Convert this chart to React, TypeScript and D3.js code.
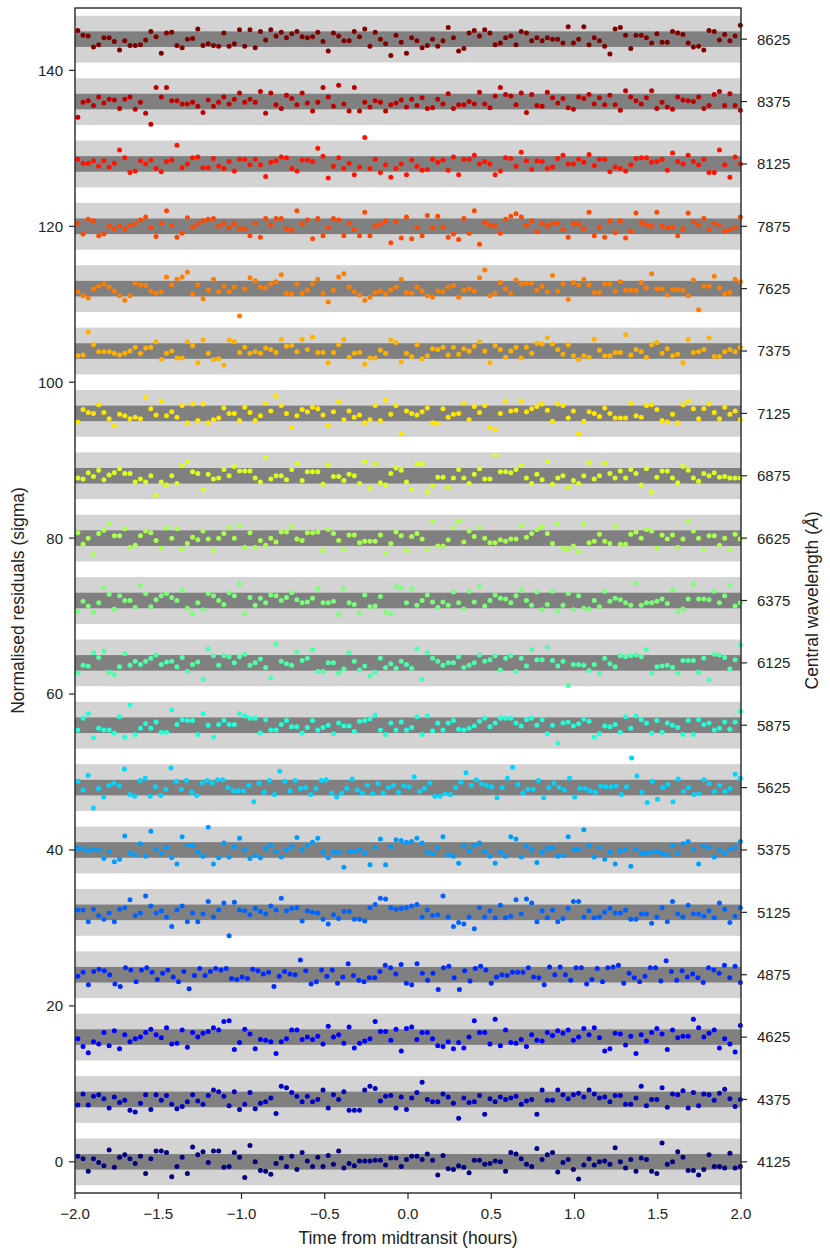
import * as d3 from "d3";
import { useEffect } from "react";

// central wavelength of each spectroscopic channel (Angstrom), bottom to top
const wavelengths = [
  4125, 4375, 4625, 4875, 5125, 5375, 5625, 5875, 6125, 6375,
  6625, 6875, 7125, 7375, 7625, 7875, 8125, 8375, 8625,
];
const rowSpacing = 8; // vertical offset between channels, in sigma
const xTicks = [-2, -1.5, -1, -0.5, 0, 0.5, 1, 1.5, 2];
const yTicks = [0, 20, 40, 60, 80, 100, 120, 140];
const tStart = -1.983;
const tEnd = 1.996;

// normalised residuals (sigma) per channel, in time order
const res4125 = [0.7, 0.4, -1.2, 0.4, -0.1, -0.5, 1.5, -0.7, 0.6, 0.9, 0.4, -0.2, 0.7, -1.5, 0.4, 1.4, 1.4, 1.2, -1.9, -0.6, 0.6, -1.5, 1.9, 0.9, 1.3, -0.1, 1.4, 1.4, -0.7, -0.6, 1.2, 0.6, -2.0, 2.1, 0, -1.1, -1.2, -1.6, -0.2, 0.5, -0.6, 0.7, -1.0, 1.2, 0.1, -0.6, 0.6, -0.6, 0.8, -0.3, 1.4, -0.8, -0.2, -0.5, 0.1, 0.1, 0.1, 0.2, 0.2, -0.4, 0.5, 0.5, -0.6, 0.3, 0.7, 0.7, 0.3, 1.0, 0.2, -1.7, 0.8, -0.9, -1.0, -0.5, -0.7, -1.4, 0.2, 0.2, -0.3, -0.2, 0.1, 0, -1.2, 1.2, 1.0, 0.4, -0.3, -0.6, 1.7, 0.3, 0.9, 1.2, -1.3, -0.1, 0.3, -1.0, -2.2, -0.4, 0.4, -0.4, 0, 0.1, -0.3, 1.8, 0, -0.8, 0.3, -1.2, 0.5, 0.3, -1.2, -1.5, 2.4, -0.3, 0, 1.3, 0.6, -1.1, -1.1, -1.7, -1.0, 0.9, -0.6, -0.6, -0.8, 1.1, -0.8, -0.6];
const res4375 = [-0.7, 0.7, -0.7, 0.4, 0.6, 0.1, -1.1, 0.3, -0.4, -0.1, -1.4, -1.6, -0.5, 0.6, -1.3, 0.6, -0.1, 0.5, -0.6, -1.2, -0.9, -0.3, 0.6, -0.2, -0.6, 0.5, 1.2, 1.0, 0.4, -0.8, 1.0, -1.3, -0.6, 0.9, -1.2, -0.5, -0.3, 0.2, -1.8, 1.7, 1.5, 0.9, 0.4, -0.3, 0.4, -0.3, 0, 1.2, -1.1, 0.6, 0, 1.0, -1.4, -1.4, -1.4, 1.2, 1.7, 1.4, -0.2, 0.4, 0.5, -1.1, 0.3, -1.3, 0.2, 0.9, 2.2, 0, -0.3, -0.3, 0.7, 0.3, -0.5, -2.4, 0.2, -0.4, -0.3, 0.5, -1.9, 0.1, -0.3, 0.3, 0, 0.2, 0.4, -0.6, -0.2, 0, -1.9, 1.2, -0.1, -0.1, 1.2, 0.6, 0.1, 0.6, 0.8, 0.3, 1.2, 0.7, 0.2, 0.3, -0.3, 0.5, 0.5, -0.6, -0.6, 0.2, 1.7, -0.8, 0, 0, 1.5, -1.0, 0.7, 0.6, 1.1, -1.1, 0.9, -0.8, 0.7, 0.6, -0.1, 0.8, 1.3, 0.1, -0.9, 0];
const res4625 = [-0.2, -1.2, -2.0, -0.6, -0.9, 0.6, -1.1, 0.8, -1.5, 0.3, -0.6, -0.2, 0, 0.6, 1.0, 0.3, -0.1, 1.2, -0.9, -0.8, 0.9, -1.3, 0.6, 0, 0.5, 0.7, 1.2, 0.9, 2.0, 2.1, -1.6, -0.7, 1.0, 0.4, -1.5, -0.3, -0.4, -0.6, -2.1, -0.6, -0.2, 0.9, 0.9, -0.3, 0, -0.3, 0.1, -0.9, 1.4, 0, 0.3, -0.8, 1.3, -1.4, -0.8, -0.5, -0.2, 2.0, 0.7, 0.7, -0.4, 1.0, -1.8, 1.1, 1.3, -0.3, 0.6, 0.6, -0.2, -1.1, -1.2, -0.6, -1.5, -0.7, -1.4, 0, 2.1, 0.6, 0.6, -0.9, 2.3, -1.1, 0.9, -0.7, -0.8, -0.3, -1.2, 0.3, -0.4, -0.5, 0.6, 0.2, 0.8, 0.5, 0.9, -0.4, 0, 1.1, 0.3, 1.2, -0.1, -1.8, -1.5, 0.5, 0.4, -1.0, 0.1, -2.1, 0.3, -0.5, 0.6, 1.1, 0.4, -1.6, 0.9, -0.1, 0.1, 0.1, 2.3, 1.2, 0, 0.5, 0.9, -1.4, -0.2, -0.9, -1.9, 1.5];
const res4875 = [-0.2, 0.3, -1.3, 0.4, 0.7, 0.5, 0, -1.2, -1.5, 0.9, 0.6, -0.9, 0.6, 0.9, 0.3, -0.6, 0.2, 0.6, -0.3, -0.9, 0.4, -1.8, -0.1, 0.8, -0.1, 0.4, 0.8, 0.6, 0.8, -0.5, -0.6, -0.3, -0.5, 0.7, 0.5, 0.1, 0.3, -1.5, -0.2, 0.4, 0.1, 0, 1.9, 0.5, -1.2, -0.9, 0.6, -0.2, 0.6, -1.1, -0.3, 1.4, -0.1, -0.7, -0.9, -0.4, -0.4, 0.4, 1.2, 0.9, 0.1, 1.3, -1.1, -1.3, 1.4, 0.2, -0.7, 0.2, -1.9, 0.9, 1.1, -0.4, -1.9, 0.5, -0.8, 0.8, 1.1, 0.6, -1.1, -0.3, 0, -0.1, 0.3, 0.3, 0.3, 0.9, -0.3, -0.4, -1.3, 1.0, 0, 1.0, 0, -0.7, 0.9, 0.9, -1.2, -0.6, 0.8, -0.9, 0.9, 1.0, 1.2, -1.1, 0.2, -0.4, -0.9, -0.2, 0.9, 0.9, -0.8, 1.8, 0.4, -0.7, 0.5, -0.3, 0.1, -0.4, -1.0, 0.9, 0.6, 0.2, 1.2, -0.4, 1.1, -1.0];
const res5125 = [0.3, 0.3, -1.2, 0.4, -0.4, -0.9, -0.1, -1.2, 0.4, 0.6, 1.6, -0.4, -0.1, 2.1, 0.8, -0.1, 0.2, -0.6, -1.8, 0.3, 0.8, -1.2, -0.1, -1.2, -0.2, 1.4, -0.6, 0.3, 1.2, -3.0, 1.3, 0.3, 0.2, -0.3, 0.5, 0.1, -0.2, 0.8, 0.3, 1.8, 0.2, 0.5, 0.6, -1.1, 0.2, 0, -0.1, -0.9, -1.5, -0.3, -0.8, 0.1, 0.1, -0.9, -0.9, -1.1, 0.6, 1.0, 1.8, 1.7, 0.6, 0.4, 0.5, 0.6, 0.8, 1.0, -0.6, 0.3, -0.4, -0.3, 2.1, -0.6, -1.8, -1.3, -1.5, -0.6, -2.1, 0.6, -0.6, 0.2, -0.7, 0.9, -0.7, -0.5, 1.6, -0.2, 1.7, 1.2, -1.2, 0.2, -0.7, 0.3, -1.2, -0.8, 0.5, 1.4, 1.4, -0.6, 0.2, -0.7, -0.6, 0, 0.5, -0.1, -0.1, 0.3, -0.9, -0.9, -0.2, -0.2, -1.4, -0.6, 0.6, -1.2, 1.4, -0.2, -0.6, 0.9, -0.2, -0.2, -0.5, 0.2, -0.7, 1.2, 0.4, -1.3, -0.5, 0.6];
const res5375 = [0.2, 0.2, -0.1, 0.1, 0, -1.1, -0.2, -1.5, -1.2, 1.8, -0.4, -0.6, 0.8, -0.8, 2.4, 0.1, -0.5, 0.3, -1.0, -1.8, 1.7, 0.6, 0.6, -0.3, -0.8, 2.9, -1.8, -1.0, 0.9, -0.9, 0.4, 1.5, 0, -1.1, -0.7, -1.0, 0.2, 0.6, -0.2, -0.9, 0, 0.4, 1.6, 0, 0.6, 1.0, 1.5, -0.3, -1.0, -0.3, -0.3, -2.2, -0.2, -0.2, 0, -0.4, -1.9, 0.3, 1.4, -1.9, 0.4, 1.3, 1.2, 1.0, 1.1, 1.5, 0.9, -0.3, -0.5, 0.3, 1.7, -0.6, -0.8, -1.7, 0.6, -0.1, 0.6, 0.9, -0.2, -0.8, -1.7, -0.3, -0.8, 1.7, 1.4, -0.9, 0.5, 0, -1.6, -0.3, 0.2, 0.3, -0.8, -0.7, 1.7, 0.1, 0.1, 2.6, 0.5, -0.9, 0.3, -1.2, -0.3, -1.8, -0.1, 0.1, -2.1, 0.1, -0.4, -0.4, -0.3, -0.2, -0.5, -0.6, 0.6, -0.4, 0.8, 1.1, 0.1, -1.8, 0.5, 0.3, -0.9, 0, -0.4, 0.1, 0.3, 1.1];
const res5625 = [0.8, -0.3, 1.6, -2.6, -0.1, -1.2, 0.3, 0.6, 0.2, 2.4, -0.9, -1.1, 0.9, 1.2, -1.1, 0.1, -1.0, -0.2, 2.5, 0.8, -0.2, 0.9, -0.6, -1.0, 0.6, 0.9, 0.6, 1.0, 1.0, 0, -0.4, -0.4, -0.4, 0.3, -1.8, 0.6, -0.6, 0.9, -0.9, 2.1, 0.8, -0.4, 0.9, -0.1, 0, -0.9, -0.1, 0.9, 1.0, -0.7, -1.2, -0.7, -0.1, 1.1, -0.3, -0.7, 0.3, -0.8, 0.5, -0.7, 0, 0.3, -0.6, 0.2, 0.1, 1.4, -0.5, -0.1, 0.6, -1.1, -1.1, -0.8, -0.9, 0, 0.7, 1.9, 0.3, 1.0, 0.5, 0.3, 0.1, -1.3, 0, 1.2, 2.6, 0.4, -0.7, -0.2, -0.2, 0.9, -1.3, 0, 0.6, 0, -0.3, 1.2, -1.2, -0.1, -0.1, -0.4, -0.6, 0.2, 0.1, 0.1, 0.2, -0.9, 0.1, 3.8, 1.5, -0.6, -1.9, 0.8, -1.5, 0, 0.4, -1.8, 1.1, -0.5, 0, -0.9, -0.8, 1.0, 0.5, -0.5, 0.3, -0.5, -0.1, 1.7, 1.2];
const res5875 = [-0.6, 0.9, 1.5, -1.6, -0.4, -0.6, -0.6, -1.0, 1.1, -1.5, 2.6, -1.2, -0.4, 0.2, -0.4, 0.4, -0.9, -0.9, 2.0, 0.1, 0.7, 0.6, 0.6, -1.2, 1.5, 0, -1.5, 0.1, 0.6, 0.1, 0.1, 1.5, 1.2, 0.9, 0.9, -1.0, 0.7, -0.6, -0.6, 0.1, 0.6, -0.2, -0.2, -1.0, -0.3, 0.6, -0.6, -0.3, 0, -1.1, 0.3, -0.1, -0.1, -0.8, 0.5, 0.6, 0.8, 1.3, -0.6, -1.2, 0.3, -0.6, 0.4, -0.6, -0.3, 1.1, -1.2, 1.2, -0.7, 0.3, -0.6, 0.3, 0.6, -0.5, -0.6, -0.4, -0.1, 0.5, 0.9, -0.2, 0.3, 0.9, 0.9, 0.9, 0.3, -0.1, 0.7, 0.9, 0, 0.7, -1.1, 0, -2.3, 0.3, 0.4, -0.1, 0.2, 0.8, 0.5, -1.5, -1.1, -0.1, -0.2, 0.1, -0.9, 1.1, -0.4, 1.2, 0.7, 0.3, -1.0, 0.6, -0.9, 0.3, 0, -0.3, -1.2, 0.6, -1.2, 0.7, 0.1, 0.3, -0.6, -0.4, 0.4, -0.5, 0.4, 1.8];
const res6125 = [-1.3, -0.3, -0.4, 1.3, 0.7, 1.5, -1.2, -1.5, -0.5, 1.2, -0.3, 0.2, -0.2, 0.2, 0.6, 1.0, -0.2, 0.1, 0.2, -0.5, 0.7, -1.1, -0.2, 0.1, -2.1, 1.8, 0.9, -0.3, 0.9, 0.8, 0, 0.8, 1.1, -0.3, 0, 0.5, -0.6, -1.9, 2.4, 0.2, -0.1, -0.3, 1.4, 0.3, 0.6, 1.7, -1.1, -1.1, 0, 0, -1.3, -0.8, 1.3, 0.2, -0.9, -0.4, -1.7, -1.2, 0.6, -0.6, -0.1, -0.7, 0.2, -0.2, -0.7, 1.8, -2.1, 1.3, 0.6, 0.2, -0.3, 0, 0, 0.8, -0.6, -0.3, 0, 1.0, 0.2, 0.4, 0.9, -0.9, 0.6, 0.9, -1.1, 0.6, -0.4, 1.7, 0.4, 0.4, 2.0, 0.3, -0.4, 0.2, -2.9, -0.2, -0.2, -0.3, -1.0, -0.2, -1.4, 0.6, -0.1, -0.5, 0.9, 0.8, 0.9, 1.0, 0.8, 1.7, -1.3, -0.5, -0.4, -0.3, -0.6, -1.3, 0.3, 0.3, 0.3, -1.2, 0.6, -2.2, 1.1, 1.0, 0.7, -0.8, 0.4, 2.3];
const res6375 = [-1.4, -0.1, -0.7, -1.5, -0.3, 1.7, 0.8, -1.1, 0.6, 0, 0, -0.9, 1.9, 0.9, -0.8, 0.1, 0.6, 0.9, 0.4, 0, 1.3, -1.0, -1.7, -0.3, -1.2, 0.9, 0.6, 0, -0.5, 1.0, 0.6, 2.1, -1.7, 0.4, -0.6, 0.3, -0.3, 0.7, 0.6, 0, 0.4, 1.0, 0.1, -0.3, -0.2, 0.3, 1.5, -0.3, -0.3, -0.1, -1.8, 1.5, -0.3, -0.5, -1.6, 0.7, -0.8, -0.7, 0.5, -1.5, -1.7, 1.8, 1.6, -0.3, 1.5, -0.6, 0, 0.7, -0.2, -0.9, -0.2, -0.6, 1.1, -0.3, -1.1, 1.2, -0.2, 1.8, -0.7, 0, 0.7, 0.3, 0.2, -0.3, 0.6, 1.3, 0, -0.6, 1.1, -1.2, -0.5, 1.2, -1.3, -0.6, 0.9, -1.2, 0.6, -1.0, -1.1, 0, -0.8, 1.2, -0.1, 0.3, 0.1, -0.3, -0.6, 2.2, -0.6, -0.3, -0.3, -0.1, 0.2, -0.4, 1.4, -1.4, -1.1, 0.2, 2.1, 0.2, 0.2, 0.1, 1.2, -0.3, 0.6, 2.0, -0.7, -0.3];
const res6625 = [0.7, -0.8, 0, -2.1, 0.6, 1.0, 1.8, 0.3, 0.3, 1.2, -1.2, -0.9, 0.3, 0.9, 0.7, -0.3, -1.3, 1.3, 0, 1.2, -1.4, -0.7, 0.1, -0.2, 0.9, -0.1, -1.6, 0, 0.6, 1.3, 0, 1.6, -1.2, 0.7, -1.2, -0.3, -0.9, 0, -0.5, 0.8, 0.8, 1.5, -0.1, -0.3, 0.7, 0.7, 0.8, -1.6, 1.1, 0.6, -0.3, -1.4, 0.4, 0.4, -0.6, -0.4, -0.4, -0.4, 0.4, -2.0, -0.7, 0.8, 0.3, -1.6, 0.2, 0.6, -0.1, -1.5, 2.1, -1.0, -1.0, -0.2, 1.4, 2.2, -0.5, 0.9, 0.2, 1.4, 0, -0.6, -0.6, -0.2, -0.4, -0.1, -0.1, 1.6, 0.1, 0.6, 1.1, 1.5, 0.6, -0.7, 1.8, -1.3, -1.4, -1.0, -1.7, 1.8, -0.6, -0.4, 0.5, -0.4, -0.7, 1.5, -0.8, -0.8, 0.5, 0.8, 0, 1.1, 0.9, -1.3, 0.4, -0.1, 0.4, -1.2, -0.1, 2.2, 0.9, 0, -1.5, 0.3, 0.3, -0.9, 0, -1.5, 0.5, -0.1];
const res6875 = [-0.3, -0.4, 0.4, -0.1, 0.7, -0.5, 0.1, 0.4, 0.9, 0.3, 0.3, -0.8, -0.4, -0.8, 0, -2.5, -0.8, -1.2, 0, -1.0, 1.3, 1.8, 0.5, 0.3, -1.8, 0.2, -0.4, -0.3, 0.8, 0, 1.2, 0.6, 0.6, 0.6, -0.3, -0.8, 2.3, -0.4, 0, 0, -0.5, 0.8, 1.6, -0.6, 0.5, 0.5, 0.5, -1.1, 1.4, -0.1, -0.1, -0.6, 0.2, 0, -1.0, 1.8, -1.6, 1.5, -0.9, -1.2, 0.3, 1.0, 0.7, -0.8, -1.8, 1.5, 1.5, -2.1, -1.3, -0.2, -0.2, -1.5, -0.3, 0.8, -0.3, -1.0, 0.2, 0.9, -0.4, -0.4, 2.6, 0.5, 0.5, 0.4, 0.8, 1.3, -0.3, -1.0, 0.2, -0.5, 1.8, -1.1, -0.3, 0, -1.5, -0.6, -1.0, 0, 1.7, -0.4, 0, 1.6, 0.3, -0.3, 0.6, -0.3, 0.8, 0.3, -1.2, 0.9, -2.1, -0.2, 0.6, 0.6, -0.3, -0.9, 1.2, 0.7, -0.3, -0.7, 0.3, 0, 0.4, -0.2, -0.1, -0.3, -0.3, -0.3];
const res7125 = [-1.1, 0.5, 0.1, 0, 1.1, 0.1, -0.7, -1.6, -0.1, -0.3, -0.7, -0.5, -0.7, 2.1, 0.6, -0.2, 1.6, -0.3, 0.2, -0.5, 1.0, -1.2, 1.2, -0.9, 1.2, -1.2, -0.8, -0.6, 0.7, 0, 0, -0.9, 0.8, 0.1, -0.9, -0.3, 1.3, 0.3, 2.2, 1.0, 0, -1.8, -0.3, 0.5, 0.2, 0.8, 0.6, -0.2, -1.6, 0.2, 1.5, -0.8, 0.3, -0.5, -0.2, -1.2, -0.8, 1.0, -0.9, 1.7, -0.1, 1.0, -2.6, 0.3, 0, -0.2, 0.2, 0.7, -1.2, -1.3, 0.6, -0.5, -0.1, 0, 1.3, -0.8, 0.9, 0.1, 1.0, -1.8, -2.1, 0, 1.6, 0.3, 0.4, 1.6, 0.2, 0.6, 0.9, 1.2, 0.4, -1.0, 1.2, 1.0, -0.6, 0.3, -2.6, -1.0, 0.2, 0, -0.4, 0.7, 0, -0.6, -0.6, -0.6, 1.3, -0.3, -0.5, 1.0, 1.1, 0.5, -0.9, -1.1, -0.1, -1.2, 1.1, 1.6, 0.6, -0.7, 0.6, 1.2, 0.1, -0.7, 0.8, -0.1, 0.3, -0.8];
const res7375 = [-0.6, -0.5, 2.4, 0.8, -0.1, -0.1, -0.1, -0.3, -0.5, -0.3, 0, 0.5, -0.3, 0.4, 0.5, 1.2, -1.1, -0.3, 0, -0.9, -0.9, 1.2, 0.7, -1.5, 1.4, -0.3, -1.1, -1.0, -1.8, 1.4, 1.2, -0.2, 0.5, -0.3, -0.1, -0.3, 0.4, 0.2, -0.2, 1.5, 0.6, 0.7, -0.1, 1.5, 0.2, 1.8, -0.2, -0.2, -1.5, -0.2, 0.8, 1.5, -0.8, -0.3, -0.2, -1.7, -0.9, -0.9, 0.1, -0.3, 1.4, 1.1, -1.4, -0.3, -0.7, 0.8, -1.0, -0.6, 0.3, 0.2, 0.5, -0.5, 0.5, -0.4, 0.3, 0, 0.6, 1.2, 0, -1.5, 0.7, 0.2, -0.8, 0, 0.5, -0.9, 0.5, -0.3, 1.0, 0.9, 1.7, 0.9, 0.2, -0.4, 0.8, -0.6, -1.1, -0.6, -0.8, 1.5, 0.1, -0.6, -0.6, -0.2, -0.2, 2.1, -0.5, 0.2, -0.1, -0.8, 0.8, 1.1, -0.3, 0.3, -0.6, -0.4, -1.5, 1.5, -0.2, -0.1, 0.2, 1.7, -0.7, -0.7, -0.1, 0.2, -0.1, 0.5];
const res7625 = [-0.4, -0.9, -1.2, 0, 0.3, 0.6, 0.2, -0.3, -0.9, -1.5, -0.9, 0.7, 0.5, 0.4, -0.3, -0.6, -0.4, 1.5, 0.5, 1.2, 1.5, 2.1, -0.7, 0.5, -1.3, -0.2, 1.2, -0.4, 0.3, -0.4, 0.2, -3.5, 0, 1.4, 1.0, 0.2, 0.1, 0.6, 0.9, 1.8, -0.6, -0.7, 0.6, -0.6, -0.2, 0.6, 1.2, -0.6, -1.7, -0.2, 1.5, 1.9, 0.2, -0.4, -0.8, -1.5, -1.1, -0.5, -0.3, -0.7, -0.2, 0.2, 1.2, -0.5, -0.6, 0.2, -0.3, -0.9, -1.1, -0.3, -0.4, 0.2, 0.4, -1.1, -0.2, 0, -0.3, 1.4, 2.4, -0.9, -0.6, 0.8, 0, -0.6, 1.1, 0.6, 0.7, 0.7, -0.2, 0.3, -0.4, 1.7, -0.3, 0.6, -1.4, 0.8, 0.5, 1.2, 0.5, -0.5, -0.5, 0.6, 0.6, -0.3, 0.9, -0.2, -0.2, -0.2, 0.8, 0.1, 1.9, 0, 0, -0.8, -0.1, -0.1, -0.2, -0.9, 1.1, -2.7, 0.3, 0.3, 1.6, 0.1, -0.7, -0.5, 1.2, 0.9];
const res7875 = [0.4, -1.0, 0.9, 0.7, -1.2, -1.0, 0, -0.3, 0.1, -0.3, 0.1, 0.3, 0.8, 1.2, -0.2, -1.3, 0.4, 2.0, 0.1, -1.4, -0.9, 1.1, -0.1, 0.3, 0.7, 0.9, 1.0, 0, 0.4, -0.2, 0.3, -0.3, -0.3, -1.2, 0.4, -1.4, 1.0, 0.2, 1.0, 1.0, -0.3, -0.5, 2.0, 0.3, 0.8, -1.6, 1.0, -1.2, -0.2, 1.0, 0.8, -1.2, 0.4, -0.4, -1.2, 1.8, -1.2, 0, 0.3, 0.7, -2.1, 0.6, -1.5, 1.2, -1.6, -0.2, -1.2, 1.4, -0.2, 1.3, -0.1, -1.4, -1.0, -1.7, 1.0, -0.9, 2.0, -2.3, 0.5, 0.2, 0, -0.9, 0.9, 1.3, 1.6, 1.2, 0.1, 0.7, -0.7, 0.4, 0, 0.4, 0.4, -0.4, -1.4, 0.3, 0.3, -0.3, 1.8, -1.2, -0.1, -1.4, 0.7, -0.8, 0.7, -1.5, -0.6, 1.7, 0.5, 0.2, 0, 1.8, 0, -0.2, -0.1, -1.2, -0.3, 1.7, 0.6, 0.2, 1.0, -0.4, 0.4, 0.1, -0.6, -0.4, -0.2, 1.2];
const res8125 = [0.6, 0.1, 0.1, 0.4, -0.3, 0.4, -0.4, 0.1, 1.8, 0.8, -1.1, -0.9, 0.4, 0, 0.5, -0.6, -1.0, 0.3, 0.5, 2.4, -0.5, 0, 0.8, 0.9, -0.5, -0.5, 0.7, -0.3, -0.6, 0.3, -0.9, 0.6, 0.6, -0.1, 0.6, -0.1, -1.6, 0.2, 0.4, 0.9, 0.8, -0.6, -0.9, 0.5, 0.5, 0.3, 2.0, 1.0, -1.8, -0.3, 0.8, -0.6, 0.1, -1.4, -0.4, 3.4, -0.6, 0.6, -1.1, -0.1, -1.7, -0.6, 0, -1.4, 0.5, -0.3, -0.8, -0.7, 0.6, 0.2, 0.5, -0.8, 0.9, -1.4, 0.6, 0.6, 1.1, 0, 0.3, 0, -1.4, -0.9, 0.8, 0.7, -0.3, 1.5, 0.4, -0.7, 0.4, 0.3, -0.6, -0.4, 0.7, 1.1, 0, 0, 0.6, 0.2, 1.2, -0.2, 0.6, 0.6, -1.0, -0.4, -0.6, -0.9, -0.1, 0.7, 0.8, 0.8, 0.2, 0.3, 0.6, -0.8, 1.4, 0.3, 0, 1.1, 0.3, -0.1, 0.6, -1.1, -1.1, 1.8, -0.1, -1.7, 0.9, 0];
const res8375 = [-2.0, -0.1, 0.1, -0.5, 0.6, -0.2, 0.3, 0.2, -0.9, 0.3, 0.6, -1.0, -0.1, -1.5, -2.9, 1.8, 0.6, 1.8, 0.1, 0.1, -0.3, -0.3, -0.1, -0.6, -1.4, 0.2, -0.6, -0.1, 0.6, -0.3, 0.3, 1.1, -0.1, 0.3, -0.1, 1.3, -1.5, 1.1, -0.4, -0.9, 0.8, 0.4, -0.4, 1.1, -0.2, -1.2, -0.1, 1.8, 0.6, -0.6, 2.1, -0.3, -1.2, 1.8, -1.2, -0.1, -0.7, 0.1, -0.1, -1.2, -0.4, -0.2, 0.2, -0.7, 0.3, -0.5, 0.5, -0.9, -0.8, 0.3, -0.3, 1.0, -0.9, -0.4, -0.4, 0, -0.3, 1.2, -0.3, -0.8, 0.7, 1.8, 0.9, 0.7, -0.4, 1.1, -1.4, 0.9, -0.5, -0.6, 1.2, 0.5, -0.2, 0.4, -0.8, -1.0, 0.6, 0.4, 0.9, -0.3, 0.5, -0.4, 0.8, -0.4, -1.1, 1.4, 0.6, 0.1, -0.3, 0.5, 1.4, -0.9, -0.1, -0.7, -1.0, 0.6, 0.2, 0.1, 0, 0.6, -0.9, -0.5, 0.9, 1.3, -0.5, 1.0, -0.5, -1.1];
const res8625 = [1.1, 0.5, 0.4, -1.0, -0.7, 0.2, 0.2, -0.3, -1.4, -0.2, -0.8, -0.8, -0.7, -0.1, 1.0, 0.3, -1.8, 0.8, 0.9, -0.8, -1.1, 0, 0.1, 1.3, -0.8, -0.6, -0.8, -0.9, 0.8, -0.9, -0.6, 1.2, -0.9, 1.2, -1.1, 1.0, -0.1, 1.2, 0.4, 0.9, 0.2, 0.7, 1.0, 0.3, 0.2, 0.3, 0.9, -0.3, -1.5, 0.8, 0.4, -0.2, -0.2, 1.0, 0.3, 1.3, -0.9, 0.9, 0, -0.6, -2.1, 0.5, -0.4, -1.8, 0.2, -0.2, -1.1, -0.8, 0, -0.9, -0.2, 1.5, 0.2, -1.5, -1.2, 0.8, 1.1, 0.4, 1.2, 0.8, -0.7, -0.5, 0.2, 0.4, -0.7, 1.0, 0.8, -0.2, 0.2, -0.2, 0.2, 0, 0, -0.5, 1.6, -0.5, 0, 1.6, -0.7, 0.2, -0.2, -0.9, -1.9, 1.3, 1.5, 0.5, -1.2, 0.5, 0.5, 0.2, -0.5, 0.7, -0.4, -0.4, 1.0, 0.8, 0.6, -0.5, -1.0, -0.9, -1.4, 1.1, 1.0, -0.1, 0.6, -0.2, 0.4, 1.8];

const residuals = [
  res4125, res4375, res4625, res4875, res5125, res5375, res5625, res5875, res6125, res6375,
  res6625, res6875, res7125, res7375, res7625, res7875, res8125, res8375, res8625,
];

// matplotlib "jet" segment data
const jetR: [number, number][] = [[0, 0], [0.35, 0], [0.66, 1], [0.89, 1], [1, 0.5]];
const jetG: [number, number][] = [[0, 0], [0.125, 0], [0.375, 1], [0.64, 1], [0.91, 0], [1, 0]];
const jetB: [number, number][] = [[0, 0.5], [0.11, 1], [0.34, 1], [0.65, 0], [1, 0]];

function channel(seg: [number, number][]) {
  return d3.scaleLinear().domain(seg.map((d) => d[0])).range(seg.map((d) => d[1])).clamp(true);
}
const jr = channel(jetR), jg = channel(jetG), jb = channel(jetB);
function jet(v: number) {
  return d3.rgb(Math.round(jr(v) * 255), Math.round(jg(v) * 255), Math.round(jb(v) * 255)).formatHex();
}

const W = 830;
const H = 1258;
const margin = { top: 8, right: 89, bottom: 65, left: 75 };
const FONT = "'Liberation Sans', Arial, Helvetica, sans-serif";

export default function App() {
  useEffect(() => {
    document.body.style.margin = "0";
  }, []);

  const x = d3.scaleLinear().domain([-2, 2]).range([margin.left, W - margin.right]);
  const y = d3.scaleLinear().domain([-4, 148]).range([H - margin.bottom, margin.top]);
  const color = d3.scaleSequential((t: number) => jet(t)).domain([0, wavelengths.length - 1]);
  const fmtX = (v: number) => d3.format(".1f")(v).replace("-", "\u2212");

  const x0 = x.range()[0];
  const x1 = x.range()[1];
  const yTop = y.range()[1];
  const yBot = y.range()[0];
  const axisColor = "#262626";

  return (
    <svg width={W} height={H} style={{ display: "block", background: "#fff" }} fontFamily={FONT}>
      {/* bands */}
      {wavelengths.map((w, i) => {
        const c = i * rowSpacing;
        return (
          <g key={`band-${w}`}>
            <rect x={x0} width={x1 - x0} y={y(c + 3)} height={y(c - 3) - y(c + 3)} fill="#d3d3d3" />
            <rect x={x0} width={x1 - x0} y={y(c + 1)} height={y(c - 1) - y(c + 1)} fill="#808080" />
          </g>
        );
      })}
      {/* residual points */}
      {residuals.map((vals, i) => {
        const c = i * rowSpacing;
        const n = vals.length;
        const t = d3.scaleLinear().domain([0, n - 1]).range([tStart, tEnd]);
        return (
          <g key={`pts-${wavelengths[i]}`} fill={color(i)}>
            {vals.map((v, j) => (
              <circle key={j} cx={x(t(j))} cy={y(c + v)} r={2.5} />
            ))}
          </g>
        );
      })}
      {/* frame */}
      <rect x={x0} y={yTop} width={x1 - x0} height={yBot - yTop} fill="none" stroke={axisColor} strokeWidth={1.4} />
      {/* bottom axis */}
      {xTicks.map((v) => (
        <g key={`xt-${v}`} transform={`translate(${x(v)},${yBot})`}>
          <line y2={6} stroke={axisColor} strokeWidth={1.2} />
          <text y={26} textAnchor="middle" fontSize={15} fill="#222">{fmtX(v)}</text>
        </g>
      ))}
      <text x={(x0 + x1) / 2} y={1244} textAnchor="middle" fontSize={17.5} fill="#222">
        Time from midtransit (hours)
      </text>
      {/* left axis */}
      {yTicks.map((v) => (
        <g key={`yt-${v}`} transform={`translate(${x0},${y(v)})`}>
          <line x2={-6} stroke={axisColor} strokeWidth={1.2} />
          <text x={-12} dy="0.36em" textAnchor="end" fontSize={15} fill="#222">{v}</text>
        </g>
      ))}
      <text transform={`translate(24,${(yTop + yBot) / 2}) rotate(-90)`} textAnchor="middle" fontSize={17.5} fill="#222">
        Normalised residuals (sigma)
      </text>
      {/* right axis: wavelength labels */}
      {wavelengths.map((w, i) => (
        <g key={`rt-${w}`} transform={`translate(${x1},${y(i * rowSpacing)})`}>
          <line x2={6} stroke={axisColor} strokeWidth={1.2} />
          <text x={16} dy="0.36em" textAnchor="start" fontSize={15} fill="#222">{w}</text>
        </g>
      ))}
      <text transform={`translate(818,${(yTop + yBot) / 2}) rotate(-90)`} textAnchor="middle" fontSize={17.5} fill="#222">
        Central wavelength (<tspan fontStyle="italic">Å</tspan>)
      </text>
    </svg>
  );
}
